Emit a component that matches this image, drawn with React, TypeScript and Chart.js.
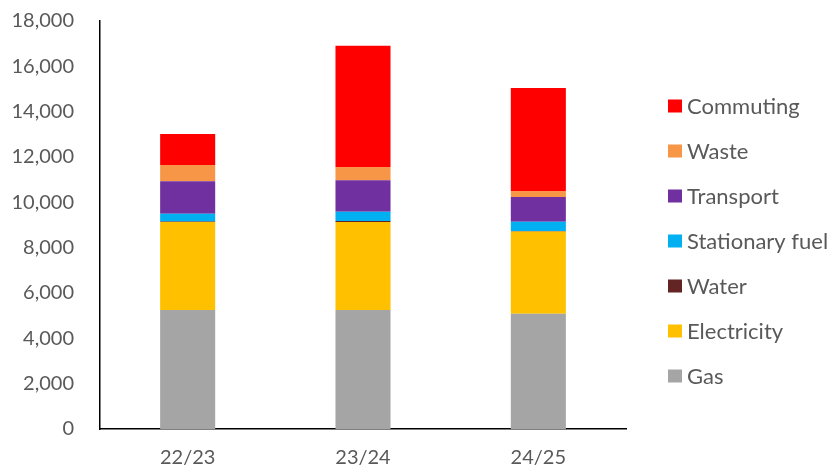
import React, { useEffect, useRef } from "react";
import { Chart, registerables } from "chart.js";

Chart.register(...registerables);

const categories = ["22/23", "23/24", "24/25"];
const gas = [5250, 5250, 5080];
const electricity = [3880, 3880, 3630];
const water = [20, 50, 30];
const stationaryFuel = [350, 410, 400];
const transport = [1430, 1380, 1090];
const waste = [720, 590, 270];
const commuting = [1370, 5350, 4540];

const FONT = "Lato, 'Open Sans', sans-serif";
const TEXT = "#595959";

const sideLegend = {
  id: "sideLegend",
  afterDraw(chart: any, _args: any, opts: any) {
    const ctx = chart.ctx;
    const ds = chart.data.datasets.slice().reverse();
    ctx.save();
    ctx.font = `${opts.fontSize}px ${FONT}`;
    ctx.textBaseline = "middle";
    ctx.textAlign = "left";
    ds.forEach((d: any, i: number) => {
      const cy = opts.top + i * opts.step;
      ctx.fillStyle = d.backgroundColor;
      ctx.fillRect(opts.x, cy - 6.5, 14, 13);
      ctx.fillStyle = TEXT;
      ctx.fillText(d.label, opts.x + 19, cy + 1);
    });
    ctx.restore();
  },
};

export default function App() {
  const ref = useRef<HTMLCanvasElement>(null);
  useEffect(() => {
    if (!ref.current) return;
    const mk = (label: string, data: number[], color: string) => ({
      label,
      data,
      backgroundColor: color,
      borderWidth: 0,
      barPercentage: 0.314,
      categoryPercentage: 1,
    });
    const chart = new Chart(ref.current, {
      type: "bar",
      data: {
        labels: categories,
        datasets: [
          mk("Gas", gas, "#A5A5A5"),
          mk("Electricity", electricity, "#FFC000"),
          mk("Water", water, "#632523"),
          mk("Stationary fuel", stationaryFuel, "#00B0F0"),
          mk("Transport", transport, "#7030A0"),
          mk("Waste", waste, "#F79646"),
          mk("Commuting", commuting, "#FF0000"),
        ],
      },
      options: {
        responsive: false,
        animation: false,
        layout: { padding: { top: 21, right: 206, bottom: 0, left: 0 } },
        plugins: {
          legend: { display: false },
          tooltip: { enabled: false },
          sideLegend: { x: 668, top: 106, step: 45, fontSize: 22 },
        } as any,
        scales: {
          x: {
            stacked: true,
            grid: { display: false, drawTicks: false },
            border: { display: true, color: "#000", width: 1.5 },
            ticks: { color: TEXT, font: { family: FONT, size: 20 }, padding: 17 },
            afterFit: (s: any) => {
              s.height = 41;
            },
          },
          y: {
            stacked: true,
            min: 0,
            max: 18000,
            grid: { display: false, drawTicks: false },
            border: { display: true, color: "#000", width: 1.5 },
            ticks: {
              stepSize: 2000,
              color: TEXT,
              font: { family: FONT, size: 20 },
              padding: 26,
              callback: (v: any) => Number(v).toLocaleString("en-US"),
            },
            afterFit: (s: any) => {
              s.width = 100;
              s.paddingTop = 0;
              s.paddingBottom = 0;
            },
          },
        },
      },
      plugins: [sideLegend],
    });
    return () => chart.destroy();
  }, []);
  return (
    <div style={{ position: "absolute", left: 0, top: 0, width: 832, height: 470 }}>
      <canvas ref={ref} width={832} height={470} style={{ display: "block" }} />
    </div>
  );
}
